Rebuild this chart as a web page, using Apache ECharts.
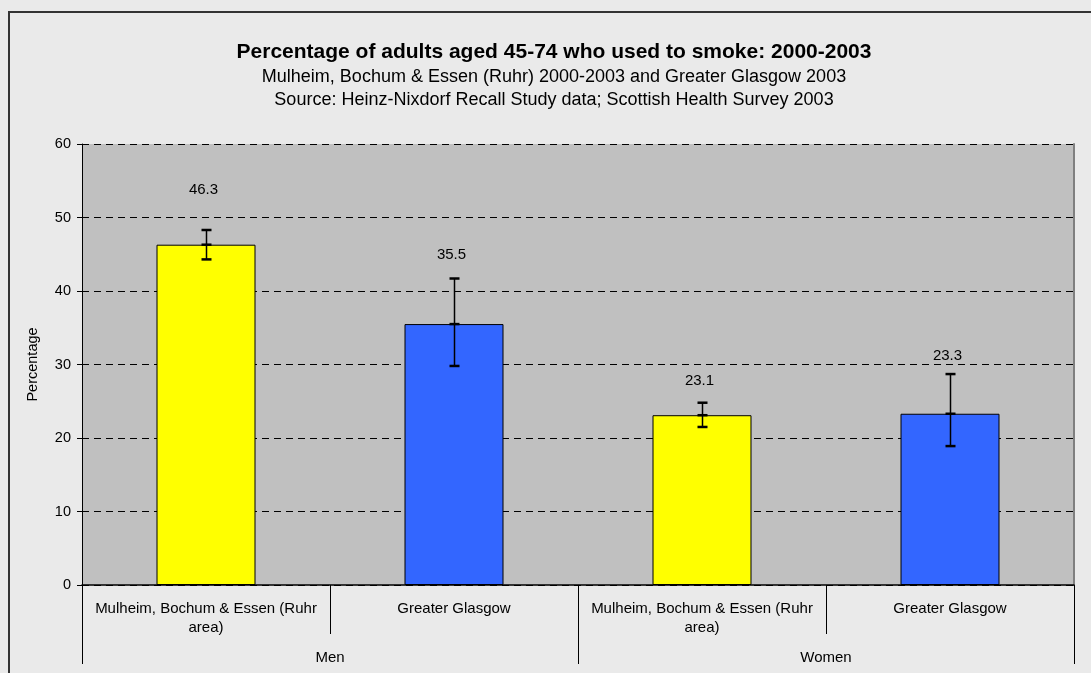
<!DOCTYPE html>
<html>
<head>
<meta charset="utf-8">
<script src="https://cdn.jsdelivr.net/npm/echarts@6/dist/echarts.min.js"></script>
<style>
html,body{margin:0;padding:0;background:#eaeaea;}
#chart{width:1091px;height:673px;}
</style>
</head>
<body>
<div id="chart"></div>
<script>
// ---- data ----
const categories = ["Mulheim, Bochum & Essen (Ruhr area)", "Greater Glasgow", "Mulheim, Bochum & Essen (Ruhr area)", "Greater Glasgow"];
const groups = ["Men", "Women"];
const values = [46.3, 35.5, 23.1, 23.3];
const lowerCI = [44.3, 29.8, 21.5, 18.9];
const upperCI = [48.3, 41.7, 24.8, 28.7];
const yTicks = [0, 10, 20, 30, 40, 50, 60];

// ---- styles ----
const barColors = ['#ffff00', '#3366ff', '#ffff00', '#3366ff'];
const labelOffsets = [40, 24, 22, 18];
const FONT = '"Liberation Sans", Arial, sans-serif';

const chart = echarts.init(document.getElementById('chart'));

const option = {
  backgroundColor: '#eaeaea',
  animation: false,
  textStyle: {fontFamily: FONT},
  title: {
    text: 'Percentage of adults aged 45-74 who used to smoke: 2000-2003',
    subtext: 'Mulheim, Bochum & Essen (Ruhr) 2000-2003 and Greater Glasgow 2003\nSource: Heinz-Nixdorf Recall Study data; Scottish Health Survey 2003',
    left: 549, top: 35, textAlign: 'center',
    textStyle: {fontFamily: FONT, fontSize: 21, fontWeight: 'bold', color: '#000', lineHeight: 24},
    subtextStyle: {fontFamily: FONT, fontSize: 18, color: '#000', lineHeight: 23},
    itemGap: 2
  },
  graphic: [{
    type: 'rect', silent: true,
    shape: {x: 9, y: 12, width: 1200, height: 800},
    style: {fill: 'none', stroke: '#333', lineWidth: 2}
  }],
  grid: {
    left: 82, right: 17, top: 144, bottom: 88,
    show: true, backgroundColor: '#c0c0c0', borderWidth: 0
  },
  xAxis: [{
    type: 'category', data: categories, position: 'bottom',
    axisLine: {show: true, lineStyle: {color: '#000', width: 1.5}},
    axisTick: {show: true, length: 49, lineStyle: {color: '#000'}},
    axisLabel: {
      interval: 0, margin: 14, color: '#000', fontSize: 15, lineHeight: 19, fontFamily: FONT,
      formatter: v => v.replace(' area)', '\narea)')
    },
    splitLine: {show: false}
  }, {
    type: 'category', data: groups, position: 'bottom',
    axisLine: {show: false},
    axisTick: {show: true, length: 79, lineStyle: {color: '#000'}},
    axisLabel: {interval: 0, margin: 65, color: '#000', fontSize: 15, fontFamily: FONT},
    splitLine: {show: false}
  }],
  yAxis: [{
    type: 'value', min: yTicks[0], max: yTicks[yTicks.length - 1], interval: 10,
    name: 'Percentage', nameLocation: 'middle', nameGap: 42, nameRotate: 90,
    nameTextStyle: {color: '#000', fontSize: 14.5, fontFamily: FONT},
    axisLine: {show: true, lineStyle: {color: '#000', width: 1}},
    axisTick: {show: true, length: 5, lineStyle: {color: '#000'}},
    axisLabel: {color: '#000', fontSize: 14.5, margin: 11, fontFamily: FONT},
    splitLine: {show: true, lineStyle: {color: '#000', type: [7, 5], width: 1}}
  }, {
    type: 'value', min: yTicks[0], max: yTicks[yTicks.length - 1], interval: 10, position: 'right',
    axisLine: {show: true, lineStyle: {color: '#808080', width: 2}},
    axisTick: {show: false}, axisLabel: {show: false}, splitLine: {show: false}
  }],
  series: [{
    type: 'bar', xAxisIndex: 0, yAxisIndex: 0,
    data: values.map((v, i) => ({value: v, itemStyle: {color: barColors[i]}})),
    barWidth: 99,
    itemStyle: {borderColor: '#000', borderWidth: 1}
  }, {
    type: 'custom', xAxisIndex: 0, yAxisIndex: 0, z: 5,
    data: values.map((v, i) => [i, lowerCI[i], upperCI[i], v]),
    renderItem: function (params, api) {
      const x = api.value(0);
      const lo = api.coord([x, api.value(1)]);
      const hi = api.coord([x, api.value(2)]);
      const mid = api.coord([x, api.value(3)]);
      const cx = Math.round(hi[0]) + 0.5;
      const hw = 5;
      const st = {stroke: '#000', lineWidth: 1.5};
      const idx = params.dataIndex;
      return {
        type: 'group',
        children: [
          {type: 'line', shape: {x1: cx, y1: hi[1], x2: cx, y2: lo[1]}, style: st},
          {type: 'line', shape: {x1: cx - hw, y1: hi[1], x2: cx + hw, y2: hi[1]}, style: {stroke: '#000', lineWidth: 2.5}},
          {type: 'line', shape: {x1: cx - hw, y1: lo[1], x2: cx + hw, y2: lo[1]}, style: {stroke: '#000', lineWidth: 2.5}},
          {type: 'line', shape: {x1: cx - hw, y1: mid[1], x2: cx + hw, y2: mid[1]}, style: {stroke: '#000', lineWidth: 2.5}},
          {type: 'text', x: cx - 3, y: hi[1] - labelOffsets[idx],
            style: {text: api.value(3).toFixed(1), fill: '#000', font: '15px ' + FONT, align: 'center', verticalAlign: 'middle'}}
        ]
      };
    }
  }]
};
chart.setOption(option);
</script>
</body>
</html>
